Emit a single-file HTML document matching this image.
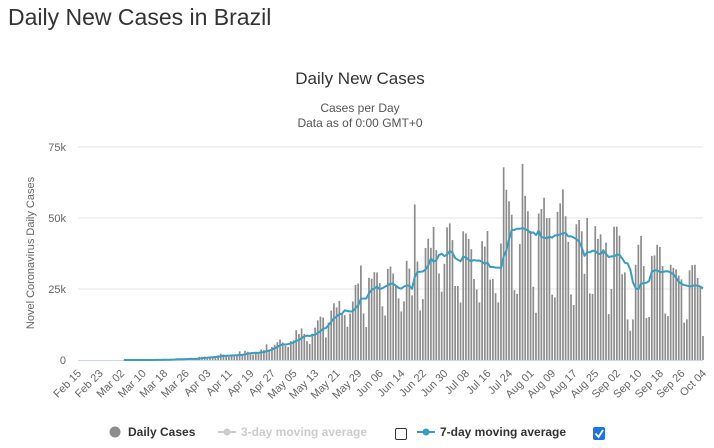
<!DOCTYPE html>
<html><head><meta charset="utf-8"><style>
body{margin:0;background:#fff;font-family:"Liberation Sans",sans-serif;}
#wrap{position:relative;width:714px;height:448px;overflow:hidden;}
h1{position:absolute;left:8px;top:4px;margin:0;font-weight:normal;font-size:23px;color:#333;}
svg{position:absolute;left:0;top:0;}
</style></head><body>
<div id="wrap">
<h1>Daily New Cases in Brazil</h1>
<svg id="chart" width="714" height="448"></svg>
</div>
<script>
const startDate = [2020, 1, 15];
const dailyCases = [
0,0,0,0,0,0,0,
0,0,0,0,1,0,0,
1,0,0,0,1,4,5,
6,6,5,9,18,25,21,
23,79,34,57,137,193,283,
224,418,345,310,232,482,502,
487,352,323,1138,1119,1208,1074,
1146,852,926,1661,2210,1930,1781,
1089,1442,1261,1832,3058,2105,3257,
2917,2055,1927,2498,2678,3735,3503,
5514,3379,4613,5385,6276,7218,6209,
4970,4588,6633,6935,10503,9162,11121,
9167,6638,5632,9258,11385,13944,15305,
14919,7938,13140,17408,19951,18508,20803,
16508,15813,11687,16324,20599,26417,26928,
33274,16409,11598,28936,28633,30925,30830,
27075,18912,15654,32091,32913,30412,25982,
21704,17110,20647,34918,32188,22765,54771,
34666,17459,21432,39436,42725,39483,46860,
38693,30476,24052,33846,46712,48105,42223,
26051,26051,20229,45305,44571,42619,39023,
28532,24831,20286,41857,39924,45403,28297,
28532,23529,20257,41008,67860,59961,55891,
51147,24578,23284,40816,69074,57837,52383,
45392,25800,16641,51603,53139,57152,49970,
49970,23010,22048,52160,55155,60091,50644,
41576,23101,19373,47784,49298,45323,30355,
50032,23421,23284,47134,42659,44235,39023,
41350,16158,25010,46934,46934,43773,30168,
30850,14279,10273,14279,33523,40557,43718,
33057,14768,15155,36653,36820,40577,39797,
33057,16389,15454,33536,32445,31911,29706,
28378,13155,14318,31563,33413,33523,28870,
25976,8456];
const yTicks = [0, 25000, 50000, 75000];
const yTickLabels = ["0", "25k", "50k", "75k"];
const monthNames = ["Jan","Feb","Mar","Apr","May","Jun","Jul","Aug","Sep","Oct","Nov","Dec"];

const NS = "http://www.w3.org/2000/svg";
const svg = document.getElementById('chart');
const X0 = 78, X1 = 703, Y0 = 360, Y1 = 147, YMAX = 75000;
const n = dailyCases.length;
const step = (X1 - X0) / (n - 1);
const xs = i => X0 + i * step;
const ys = v => Y0 - v / YMAX * (Y0 - Y1);
function mk(tag, attrs, parent) {
  const e = document.createElementNS(NS, tag);
  for (const k in attrs) e.setAttribute(k, attrs[k]);
  (parent || svg).appendChild(e);
  return e;
}
function txt(s, attrs, parent) { const t = mk('text', attrs, parent); t.textContent = s; return t; }

let t = txt("Daily New Cases", {x:360, y:84, 'text-anchor':'middle', 'font-size':17, fill:'#333'});


t = txt("Cases per Day", {x:360, y:112, 'text-anchor':'middle', 'font-size':12, fill:'#555'});


t = txt("Data as of 0:00 GMT+0", {x:360, y:127, 'text-anchor':'middle', 'font-size':12, fill:'#555'});



yTicks.forEach((v, k) => {
  if (v > 0) {
    const g = mk('line', {x1:X0, x2:X1, y1:ys(v), y2:ys(v), stroke:'#e6e6e6', 'stroke-width':1});
    
    
  }
  const l = txt(yTickLabels[k], {x:66, y:ys(v)+4, 'text-anchor':'end', 'font-size':11, fill:'#666'});
  
  
});
t = txt("Novel Coronavirus Daily Cases", {x:0, y:0, 'text-anchor':'middle', 'font-size':11, fill:'#666', transform:'translate(34,253) rotate(-90)'});



const bars = mk('g', {});


dailyCases.forEach((v, i) => {
  if (v <= 0) return;
  const h = Y0 - ys(v);
  const r = mk('rect', {x:xs(i)-0.85, y:ys(v), width:1.7, height:Math.max(h,0.3), fill:'#8c8c8c'}, bars);
  
  
});

const axis = mk('line', {x1:X0, x2:X1, y1:Y0+0.5, y2:Y0+0.5, stroke:'#ccd6eb', 'stroke-width':1});



// 7-day moving average derived from dailyCases
let pts = [];
for (let i = 17; i < n; i++) {
  let s = 0; for (let j = i - 6; j <= i; j++) s += dailyCases[j];
  pts.push(xs(i).toFixed(1) + ',' + ys(s / 7).toFixed(1));
}
const ma = mk('polyline', {points:pts.join(' '), fill:'none', stroke:'#3a9dc0', 'stroke-width':2, 'stroke-linejoin':'round'});



for (let i = 0; i < n; i += 8) {
  const d = new Date(startDate[0], startDate[1], startDate[2] + i);
  const lab = monthNames[d.getMonth()] + ' ' + String(d.getDate()).padStart(2, '0');
  const x = xs(i);
  const l = txt(lab, {x:0, y:0, 'text-anchor':'end', 'font-size':11, fill:'#666', transform:`translate(${x+4},${Y0+14}) rotate(-45)`});
  
  
}

// legend
const lg = mk('g', {});


let c = mk('circle', {cx:115, cy:432, r:5.5, fill:'#8c8c8c'}, lg);


t = txt("Daily Cases", {x:128, y:436, 'font-size':12, 'font-weight':'bold', fill:'#333'}, lg);


let ln = mk('line', {x1:218, x2:236, y1:432, y2:432, stroke:'#ccc', 'stroke-width':2}, lg);


c = mk('circle', {cx:227, cy:432, r:3.5, fill:'#ccc'}, lg);


t = txt("3-day moving average", {x:241, y:436, 'font-size':12, 'font-weight':'bold', fill:'#ccc'}, lg);


let cb = mk('rect', {x:395.5, y:428.5, width:11, height:11, rx:1.5, fill:'#fff', stroke:'#333'}, lg);


ln = mk('line', {x1:417, x2:435, y1:432, y2:432, stroke:'#3a9dc0', 'stroke-width':2}, lg);


c = mk('circle', {cx:426, cy:432, r:3.5, fill:'#3a9dc0'}, lg);


t = txt("7-day moving average", {x:440, y:436, 'font-size':12, 'font-weight':'bold', fill:'#333'}, lg);


cb = mk('rect', {x:593, y:427, width:12, height:13, rx:2, fill:'#1a73e8'}, lg);


const ck = mk('path', {d:'M595.5 433.5 L598.5 437 L603 430', fill:'none', stroke:'#fff', 'stroke-width':1.8}, lg);


</script>
</body></html>
